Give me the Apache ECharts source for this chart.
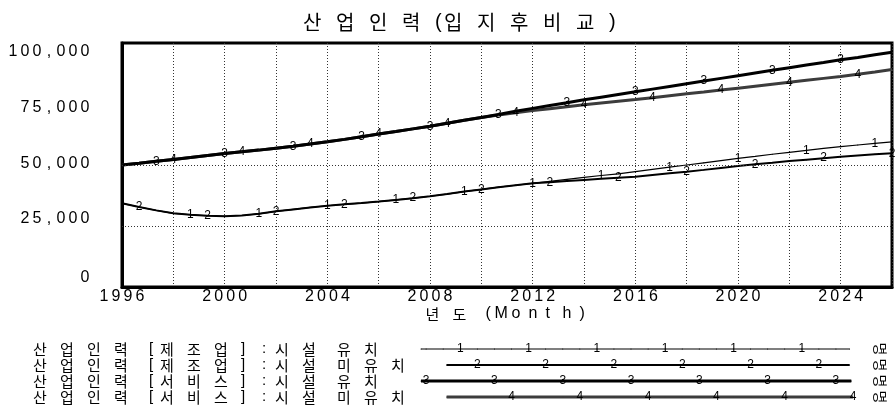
<!DOCTYPE html>
<html>
<head>
<meta charset="utf-8">
<script src="https://cdn.jsdelivr.net/npm/echarts@6/dist/echarts.min.js"></script>
<style>
  html, body { margin: 0; padding: 0; background: #fff; }
  #chart { width: 895px; height: 420px; }
</style>
</head>
<body>
<div id="chart"></div>
<script>
// ---- Data -----------------------------------------------------------------
// Simulation output sampled every 8 months, 1996 .. 2026
const startYear = 1996;
const stepYears = 2 / 3;

const chartTitle = '산업인력(입지후비교)';
const xAxisName = '년도 (Month)';
const unitLabel = '명';
const labelledYears = [1996, 2000, 2004, 2008, 2012, 2016, 2020, 2024];
const gridValues = [25000, 50000];

const seriesNames = [
  '산업인력 [제조업] : 시설 유치',
  '산업인력 [제조업] : 시설 미유치',
  '산업인력 [서비스] : 시설 유치',
  '산업인력 [서비스] : 시설 미유치'
];
const markerLabels = ['1', '2', '3', '4'];

const mfgWithFacility = [
  34300, 32800, 31400, 30200, 29600, 29200, 29000, 29300, 30000, 31000,
  31800, 32600, 33300, 33900, 34400, 35000, 35700, 36400, 37200, 38100,
  39100, 40000, 40900, 41700, 42500, 43300, 44100, 44900, 45700, 46400,
  47300, 48200, 49100, 50000, 50900, 51800, 52700, 53500, 54400, 55200,
  56000, 56800, 57500, 58200, 58900, 59500
];
const mfgWithoutFacility = [
  34300, 32800, 31400, 30200, 29600, 29200, 29000, 29300, 30000, 31000,
  31800, 32600, 33300, 33900, 34400, 35000, 35700, 36400, 37200, 38100,
  39100, 40000, 40900, 41700, 42500, 42900, 43400, 43900, 44400, 44800,
  45200, 45900, 46600, 47250, 48000, 48800, 49600, 50300, 50900, 51600,
  52200, 52800, 53400, 53900, 54400, 54800
];
const svcWithFacility = [
  50000, 50700, 51500, 52300, 53100, 53900, 54700, 55400, 56100, 56900,
  57700, 58600, 59500, 60500, 61600, 62700, 63700, 64800, 65900, 67100,
  68300, 69500, 70700, 72000, 73200, 74400, 75500, 76700, 77800, 78900,
  80000, 81100, 82200, 83300, 84400, 85500, 86600, 87700, 88800, 89900,
  91000, 92000, 93100, 94100, 95200, 96200
];
const svcWithoutFacility = [
  50000, 50700, 51500, 52300, 53100, 53900, 54700, 55400, 56100, 56900,
  57700, 58600, 59500, 60500, 61600, 62700, 63700, 64800, 65900, 67100,
  68300, 69500, 70500, 71400, 72300, 73100, 73900, 74700, 75400, 76100,
  76800, 77600, 78400, 79200, 79900, 80700, 81500, 82300, 83100, 83900,
  84700, 85500, 86300, 87200, 88100, 89100
];

// ---- Text helpers: every character gets its own fixed-width cell ----------
const KR = 'Noto Sans CJK KR';
const LAT = 'Liberation Sans';
const HANGUL = /[\uAC00-\uD7A3]/;
const PUNCT = { '[': 'lb', ']': 'rb', ':': 'co', '(': 'lp', ')': 'rp', ',': 'cm' };

function cells(text, tag) {
  let out = '';
  for (const ch of String(text)) {
    const cls = ch === ' ' ? 'sp'
      : HANGUL.test(ch) ? 'hg'
      : /[0-9]/.test(ch) ? 'dg'
      : (PUNCT[ch] || 'la');
    out += '{' + tag + cls + '|' + ch + '}';
  }
  return out;
}

// spec: { cls: [width, family, size, align] }
function makeRich(tag, spec, extra) {
  const rich = {};
  Object.keys(spec).forEach(cls => {
    const [w, fam, size, align] = spec[cls];
    rich[tag + cls] = Object.assign({
      width: w, fontFamily: fam, fontSize: size, align: align || 'left',
      color: '#000', fontWeight: 'normal'
    }, extra || {});
  });
  return rich;
}

const titleRich = makeRich('t', {
  hg: [33, KR, 20], lp: [9, LAT, 20], rp: [9, LAT, 20], sp: [8, LAT, 20]
});
const legendRich = makeRich('g', {
  hg: [27, KR, 15], sp: [8, LAT, 15], lb: [11, LAT, 15], rb: [13, LAT, 15], co: [5, LAT, 15]
});
const nameRich = makeRich('n', {
  hg: [27, KR, 15], sp: [6, LAT, 16], lp: [9, LAT, 16], rp: [9, LAT, 16], la: [17, LAT, 16]
});
const xRich = makeRich('x', { dg: [12, LAT, 16, 'center'] });

// y labels: each level nudged slightly, the way the labels sit beside the frame
const yShift = [['top', 34], ['top', 30], ['top', 18], ['bottom', 24], ['bottom', 34]];
const yRich = {};
yShift.forEach(([va, lh], idx) => {
  Object.assign(yRich, makeRich('y' + idx, {
    dg: [12, LAT, 16, 'center'], cm: [12, LAT, 16, 'center']
  }, { verticalAlign: va, lineHeight: lh }));
});

// ---- Series builders ------------------------------------------------------
const lineLook = [
  { width: 1.2, color: '#000' },
  { width: 2, color: '#000' },
  { width: 3, color: '#000' },
  { width: 3, color: '#3c3c3c' }
];
const valueSets = [mfgWithFacility, mfgWithoutFacility, svcWithFacility, svcWithoutFacility];

function markerLabel(k, test) {
  return {
    show: true, position: 'inside', color: '#000',
    fontFamily: LAT, fontSize: 12,
    formatter: p => test(p) ? markerLabels[k] : ''
  };
}

function mainSeries(k) {
  const look = lineLook[k];
  return {
    type: 'line', name: seriesNames[k], xAxisIndex: 0, yAxisIndex: 0,
    data: valueSets[k].map((v, i) => [startYear + i * stepYears, v]),
    symbol: 'circle', symbolSize: 1, showSymbol: true,
    lineStyle: { width: look.width, color: look.color },
    itemStyle: { color: look.color },
    // number tags every fourth sample, staggered per series, none at the start
    label: markerLabel(k, p => p.dataIndex > 0 && p.dataIndex % 4 === k),
    silent: true, emphasis: { disabled: true }
  };
}

// legend samples live in their own small grid (x in marker steps, y in rows)
const legendOffsets = [2, 3, 0, 1];
const legendSpans = [[-0.3, 24.8], [1.2, 24.8], [-0.3, 24.9], [1.2, 25]];
function legendSeries(k) {
  const look = lineLook[k];
  const [a, b] = legendSpans[k];
  const pts = [[a, k]];
  for (let s = Math.ceil(a); s <= Math.floor(b); s++) {
    if (s !== a) pts.push([s, k]);
  }
  if (pts[pts.length - 1][0] !== b) pts.push([b, k]);
  return {
    type: 'line', xAxisIndex: 1, yAxisIndex: 1,
    data: pts,
    symbol: 'circle', symbolSize: 1, showSymbol: true,
    lineStyle: { width: look.width, color: look.color },
    itemStyle: { color: look.color },
    label: markerLabel(k, p => Number.isInteger(p.value[0]) &&
      (((p.value[0] - legendOffsets[k]) % 4) + 4) % 4 === 0),
    silent: true, emphasis: { disabled: true }
  };
}

const mains = [3, 2, 1, 0].map(mainSeries);
mains[0].markLine = {
  silent: true, symbol: ['none', 'none'], label: { show: false },
  lineStyle: { color: '#333', width: 1, type: [1, 2] },
  data: gridValues.map(v => ({ yAxis: v }))
};

const option = {
  animation: false,
  backgroundColor: '#fff',
  title: {
    text: cells(chartTitle, 't'),
    left: 298, top: 7,
    textStyle: { rich: titleRich }
  },
  grid: [
    { left: 122, right: 3, top: 43, bottom: 133, show: true,
      borderColor: '#000', borderWidth: 3, backgroundColor: '#fff' },
    { left: 421, right: 42, top: 341, height: 64 }
  ],
  xAxis: [
    {
      type: 'value', gridIndex: 0, min: 1996, max: 2026, interval: 2,
      axisLine: { show: true, onZero: false, lineStyle: { color: '#000', width: 3 } },
      axisTick: { show: false },
      splitLine: { show: true, lineStyle: { color: '#333', width: 1, type: [1, 2] } },
      axisLabel: {
        margin: 2,
        formatter: v => labelledYears.includes(v) ? cells(v, 'x') : '',
        rich: xRich
      },
      name: cells(xAxisName, 'n'),
      nameLocation: 'middle', nameGap: 19, nameMoveOverlap: false,
      nameTextStyle: { rich: nameRich }
    },
    { type: 'value', gridIndex: 1, min: -0.3, max: 25, show: false }
  ],
  yAxis: [
    {
      type: 'value', gridIndex: 0, min: 0, max: 100000, interval: 25000,
      axisLine: { show: true, lineStyle: { color: '#000', width: 3 } },
      axisTick: { show: false },
      splitLine: { show: false },
      axisLabel: {
        margin: 31,
        formatter: v => cells(v.toLocaleString('en-US'), 'y' + Math.round(v / 25000)),
        rich: yRich
      }
    },
    {
      type: 'category', gridIndex: 1, data: seriesNames, inverse: true,
      axisLine: { show: false }, axisTick: { show: false }, splitLine: { show: false },
      axisLabel: {
        interval: 0, align: 'left', margin: 388,
        formatter: v => cells(v, 'g'),
        rich: legendRich
      }
    },
    {
      type: 'category', gridIndex: 1, position: 'right', data: seriesNames, inverse: true,
      axisLine: { show: false }, axisTick: { show: false }, splitLine: { show: false },
      axisLabel: {
        interval: 0, hideOverlap: false,
        formatter: () => unitLabel,
        rotate: -90, margin: 27, align: 'center', verticalAlign: 'middle',
        fontFamily: KR, fontSize: 14, color: '#000'
      }
    }
  ],
  series: mains.concat([0, 1, 2, 3].map(legendSeries))
};

const chart = echarts.init(document.getElementById('chart'), null, { renderer: 'canvas' });
chart.setOption(option);
</script>
</body>
</html>
